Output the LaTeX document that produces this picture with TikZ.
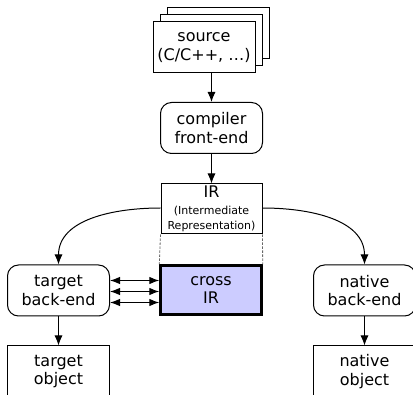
\documentclass[tikz,border=0pt]{standalone}
\usepackage{fontspec}
\setmainfont{DejaVu Sans}
\usetikzlibrary{arrows.meta}
\newcommand\irsmall{\fontsize{11}{14}\selectfont}
\begin{document}
\begin{tikzpicture}[x=1pt,y=-1pt,
  every node/.style={font=\fontsize{16}{18.5}\selectfont, align=center, inner sep=0pt},
  box/.style={draw, line width=1pt, fill=white, minimum width=102pt, minimum height=51pt},
  roundbox/.style={box, rounded corners=11pt},
  crossbox/.style={box, line width=2.4pt, fill=crossfill},
  arr/.style={-{Latex[length=10pt,width=8pt]}, line width=1pt},
  biarr/.style={{Latex[length=10pt,width=7.5pt]}-{Latex[length=10pt,width=7.5pt]}, line width=1pt},
  guide/.style={dash pattern=on 2.5pt off 1.5pt, black!60, line width=0.8pt}
]
\definecolor{crossfill}{RGB}{204,204,255}
\useasboundingbox (0,0) rectangle (413,395);
\clip (0,0) rectangle (413,395);

% stacked source files
\node[box] (src3) at (218.5,33) {};
\node[box] (src2) at (211.5,40.5) {};
\node[box] (src) at (204,47.5) {source\\(C/C++, …)};

% compiler pipeline
\node[roundbox] (fe) at (211.5,128) {compiler\\front-end};
\node[box, minimum width=101pt, minimum height=50pt] (ir) at (211.5,209)
  {IR\\[-2pt]{\irsmall (Intermediate}\\[-3pt]{\irsmall Representation)}};
\node[crossbox, minimum width=101pt, minimum height=49pt] (cross) at (211,290) {cross\\IR};

\node[roundbox] (tbe) at (58.5,290.5) {target\\back-end};
\node[roundbox] (nbe) at (364.5,290.5) {native\\back-end};
\node[box, anchor=north] (tobj) at (58.5,345.5) {target\\object};
\node[box, anchor=north] (nobj) at (364.5,345.5) {native\\object};

% connectors
\draw[arr] (src.south -| fe.north) -- (fe.north);
\draw[arr] (fe.south) -- (ir.north);
\draw[guide] (ir.south west) -- (cross.north west);
\draw[guide] (ir.south east) -- (cross.north east);
\draw[arr] ([yshift=1pt]ir.west) to[out=180,in=90] (tbe.north);
\draw[arr] ([yshift=1pt]ir.east) to[out=0,in=90] (nbe.north);
\foreach \dy in {-12,-1,10}
  \draw[biarr] ([yshift=\dy pt]tbe.east) -- ([yshift=\dy pt]tbe.east -| cross.west);
\draw[arr] (tbe.south) -- (tobj.north);
\draw[arr] (nbe.south) -- (nobj.north);
\end{tikzpicture}
\end{document}
